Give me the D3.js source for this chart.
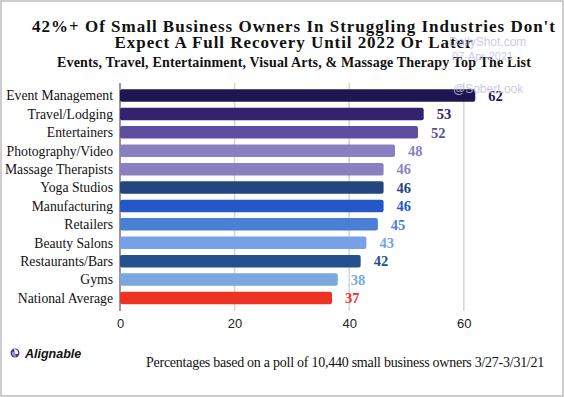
<!DOCTYPE html>
<html>
<head>
<meta charset="utf-8">
<script src="https://cdn.jsdelivr.net/npm/d3@7"></script>
<style>
  body { margin: 0; background: #fff; }
</style>
</head>
<body>
<div id="chart"></div>
<script>
// Data
const categories = ["Event Management", "Travel/Lodging", "Entertainers", "Photography/Video",
  "Massage Therapists", "Yoga Studios", "Manufacturing", "Retailers", "Beauty Salons",
  "Restaurants/Bars", "Gyms", "National Average"];
const values = [62, 53, 52, 48, 46, 46, 46, 45, 43, 42, 38, 37];
const barColors = ["#1e1650", "#33226e", "#5e4ea0", "#8a7fc0", "#8a7fc0", "#23467f",
  "#2358c6", "#4a7fd6", "#77a1e7", "#24508f", "#7aa8dc", "#ee3224"];
const xTicks = [0, 20, 40, 60];

const titleLines = ["42%+ Of Small Business Owners In Struggling Industries Don't",
  "Expect A Full Recovery Until 2022 Or Later"];
const subtitle = "Events, Travel, Entertainment, Visual Arts, & Massage Therapy Top The List";
const footnote = "Percentages based on a poll of 10,440 small business owners 3/27-3/31/21";

const W = 564, H = 397;
const margin = { top: 83, left: 120, bottom: 87 };
const serif = "'Liberation Serif', 'DejaVu Serif', serif";
const sans = "'Liberation Sans', Arial, sans-serif";

const svg = d3.select("#chart").append("svg")
  .attr("width", W)
  .attr("height", H);

// frame
svg.append("rect")
  .attr("x", 1).attr("y", 1)
  .attr("width", W - 2).attr("height", H - 2)
  .attr("fill", "#fff")
  .attr("stroke", "#bdbdbd")
  .attr("stroke-width", 1.5);

// scales
const x = d3.scaleLinear()
  .domain([0, 70])
  .range([margin.left, margin.left + 70 * 5.73]);

const y = d3.scaleBand()
  .domain(categories)
  .range([86.3, 307.2])
  .paddingInner(0.32)
  .paddingOuter(0.16);

const gridBottom = H - margin.bottom + 1;

// gridlines
svg.append("g")
  .selectAll("line")
  .data(xTicks)
  .join("line")
  .attr("x1", d => x(d)).attr("x2", d => x(d))
  .attr("y1", margin.top).attr("y2", gridBottom)
  .attr("stroke", d => d === 0 ? "#333" : "#d4d4d4")
  .attr("stroke-width", d => d === 0 ? 1 : 1.5);

// x axis labels
svg.append("g")
  .attr("transform", `translate(0,${gridBottom})`)
  .call(d3.axisBottom(x).tickValues(xTicks).tickSize(0).tickPadding(8))
  .call(g => g.select(".domain").remove())
  .selectAll("text")
  .style("font-family", sans)
  .style("font-size", "13px")
  .attr("fill", "#222");

// bars
svg.append("g")
  .selectAll("rect")
  .data(values)
  .join("rect")
  .attr("x", x(0))
  .attr("y", (d, i) => y(categories[i]))
  .attr("width", d => x(d) - x(0))
  .attr("height", y.bandwidth())
  .attr("rx", 2)
  .attr("fill", (d, i) => barColors[i]);

// value labels
svg.append("g")
  .selectAll("text")
  .data(values)
  .join("text")
  .attr("x", d => x(d) + 13)
  .attr("y", (d, i) => y(categories[i]) + y.bandwidth() / 2)
  .attr("dy", "0.36em")
  .attr("fill", (d, i) => barColors[i])
  .style("font-family", serif)
  .style("font-weight", "bold")
  .style("font-size", "14.5px")
  .text(d => d);

// category labels
svg.append("g")
  .selectAll("text")
  .data(categories)
  .join("text")
  .attr("x", margin.left - 7)
  .attr("y", d => y(d) + y.bandwidth() / 2)
  .attr("dy", "0.35em")
  .attr("text-anchor", "end")
  .attr("fill", "#111")
  .style("font-family", serif)
  .style("font-size", "13.7px")
  .text(d => d);

// spread letters so a text spans the given width
function fitSpacing(t, width) {
  const len = t.node().getComputedTextLength();
  const n = t.text().length;
  t.style("letter-spacing", ((width - len) / n) + "px");
}

function heading(str, yPos, size, width) {
  const t = svg.append("text")
    .attr("x", 294).attr("y", yPos)
    .attr("text-anchor", "middle")
    .attr("fill", "#111")
    .style("font-family", serif)
    .style("font-weight", "bold")
    .style("font-size", size + "px")
    .text(str);
  fitSpacing(t, width);
  return t;
}

heading(titleLines[0], 32.2, 17, 524);
heading(titleLines[1], 47.8, 17, 359);
heading(subtitle, 67.3, 14, 474);

// watermarks
const marks = [["DailyShot.com", 449, 46, 12], ["07-Apr-2021", 452, 60, 11], ["@SoberLook", 453, 93, 12]];
svg.append("g")
  .selectAll("text")
  .data(marks)
  .join("text")
  .attr("x", d => d[1]).attr("y", d => d[2])
  .attr("fill", "#c3c0e2")
  .attr("fill-opacity", 0.85)
  .style("font-family", sans)
  .style("font-size", d => d[3] + "px")
  .text(d => d[0]);

// footnote
const foot = svg.append("text")
  .attr("x", 146).attr("y", 366.5)
  .attr("fill", "#111")
  .style("font-family", serif)
  .style("font-size", "14px")
  .text(footnote);
fitSpacing(foot, 398);

// Alignable logo
const logo = svg.append("g").attr("transform", "translate(15,353)");
logo.append("circle").attr("r", 4.5).attr("fill", "#4b3b8f");
logo.append("path")
  .attr("d", "M-1,-4 A4,4 0 0 1 3,1 L0,1 Z")
  .attr("fill", "#fff");
logo.append("path")
  .attr("d", "M1,4 A4,4 0 0 1 -3,-1 L0,-1 Z")
  .attr("fill", "#9a8fd0");
svg.append("text")
  .attr("x", 25).attr("y", 358)
  .attr("fill", "#111")
  .style("font-family", sans)
  .style("font-weight", "bold")
  .style("font-size", "12.5px")
  .style("font-style", "italic")
  .text("Alignable");
</script>
</body>
</html>
